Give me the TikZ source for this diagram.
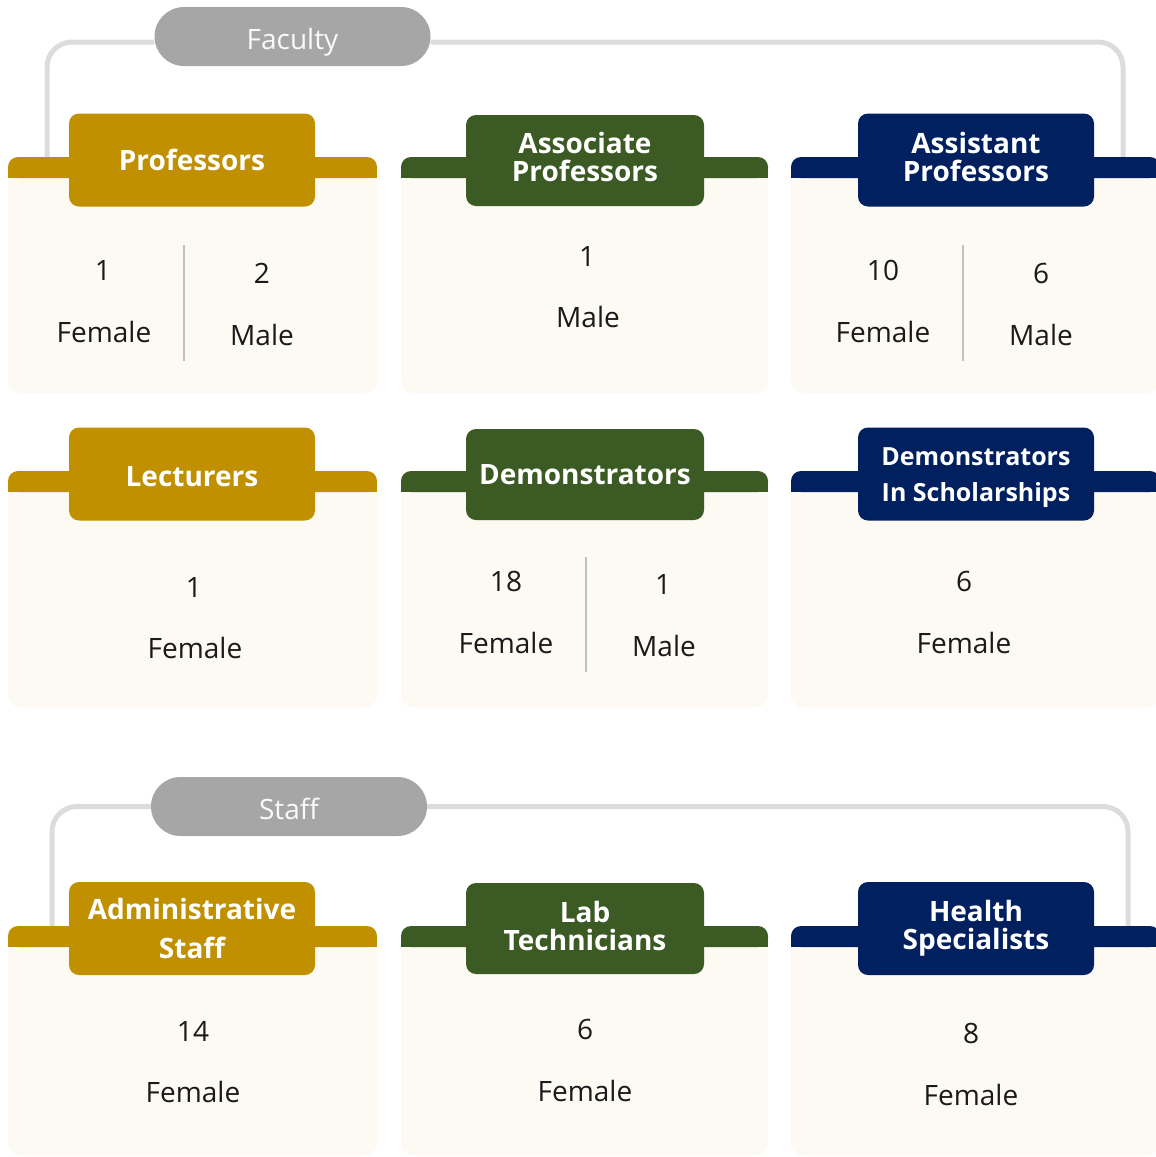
\documentclass[tikz,border=0pt]{standalone}
\usepackage{fontspec}
\setmainfont{Open Sans}
\usetikzlibrary{positioning}
\definecolor{gold}{HTML}{C09000}
\definecolor{leaf}{HTML}{3B5A24}
\definecolor{navy}{HTML}{002060}
\definecolor{cream}{HTML}{FDF9F3}
\definecolor{pill}{HTML}{A6A6A6}
\definecolor{linkgray}{HTML}{DCDCDC}
\definecolor{rulegray}{HTML}{C0C0C0}
\definecolor{ink}{HTML}{1A1A1A}

% card: left, right, tab top, bottom, colour
\newcommand{\card}[5]{%
  \fill[cream, rounded corners=12] (#1,#3+10) rectangle (#2,#4);
  \fill[#5, rounded corners=10] (#1,#3) rectangle (#2,#3+21);
  \fill[#5] (#1,#3+10) rectangle (#2,#3+21);
}

\begin{document}
\begin{tikzpicture}[x=1pt,y=-1pt,
    head/.style={rounded corners=10, text=white, font=\bfseries\fontsize{28}{28}\selectfont,
      align=center, inner sep=0pt, minimum height=93},
    group/.style={fill=pill, text=white!94!pill, rounded corners=29.5, minimum width=276,
      minimum height=59, inner sep=0pt, text height=25pt, text depth=0pt,
      font=\fontsize{28}{28}\selectfont},
    link/.style={linkgray, line width=5, rounded corners=25},
    num/.style={text=ink, inner sep=0pt, font=\fontsize{28}{28}\selectfont},
    split/.style={rulegray, line width=2}]
    \useasboundingbox (0,0) rectangle (1156,1157);

    % group labels and their links
    \node[group] (faculty) at (292.5,36.5) {Faculty};
    \node[group] (staff) at (289,806.5) {Staff};
    \coordinate (facL) at (47,157);
    \coordinate (facR) at (1123,157);
    \coordinate (stfL) at (52,926);
    \coordinate (stfR) at (1128,926);
    \draw[link] (facL) |- ([yshift=-5.5pt]faculty.west);
    \draw[link] ([yshift=-5.5pt]faculty.east) -| (facR);
    \draw[link] (stfL) |- (staff.west);
    \draw[link] (staff.east) -| (stfR);

    % cards
    \card{8}{377}{157}{393}{gold}
    \card{401}{768}{157}{393}{leaf}
    \card{791}{1160}{157}{393}{navy}
    \card{8}{377}{471}{707}{gold}
    \card{401}{768}{471}{707}{leaf}
    \card{791}{1160}{471}{707}{navy}
    \card{8}{377}{926}{1155}{gold}
    \card{401}{768}{926}{1155}{leaf}
    \card{791}{1160}{926}{1155}{navy}

    % headers
    \node[head, fill=gold, minimum width=246] (prof) at (192,160) {Professors};
    \node[head, fill=leaf, minimum width=238, minimum height=91, text depth=8pt] (assoc) at (585,160.5) {Associate\\Professors};
    \node[head, fill=navy, minimum width=236, text depth=6pt] (assist) at (976,160) {Assistant\\Professors};
    \node[head, fill=gold, minimum width=246, text height=26pt] (lect) at (192,474) {Lecturers};
    \node[head, fill=leaf, minimum width=238, minimum height=91] (demo) at (585,474.5) {Demonstrators};
    \node[head, fill=navy, minimum width=236, text height=61pt,
      font=\bfseries\fontsize{25}{36}\selectfont] (schol) at (976,474) {Demonstrators\\In Scholarships};
    \node[head, fill=gold, minimum width=246] (admin) at (192,928.5) {Administrative\\[11pt]Staff};
    \node[head, fill=leaf, minimum width=238, minimum height=91, text depth=6pt] (lab) at (585,928.5) {Lab\\Technicians};
    \node[head, fill=navy, minimum width=236] (health) at (976,928.5) {Health\\Specialists};

    % figures
    \node[num] (profFn) at (103,270) {1};
    \node[num] (profF) at (104,332) {Female};
    \node[num] (profMn) at (262,273) {2};
    \node[num] (profM) at (262,335) {Male};
    \draw[split] (184,245) -- (184,361);

    \node[num] (assocMn) at (587,256) {1};
    \node[num] (assocM) at (588,317) {Male};

    \node[num] (assistFn) at (883,270) {10};
    \node[num] (assistF) at (883,332) {Female};
    \node[num] (assistMn) at (1041,273) {6};
    \node[num] (assistM) at (1041,335) {Male};
    \draw[split] (963,245) -- (963,361);

    \node[num] (lectFn) at (194,587) {1};
    \node[num] (lectF) at (195,648) {Female};

    \node[num] (demoFn) at (506,581) {18};
    \node[num] (demoF) at (506,643) {Female};
    \node[num] (demoMn) at (663,584) {1};
    \node[num] (demoM) at (664,646) {Male};
    \draw[split] (586,557) -- (586,672);

    \node[num] (scholFn) at (964,581) {6};
    \node[num] (scholF) at (964,643) {Female};

    \node[num] (adminFn) at (193,1031) {14};
    \node[num] (adminF) at (193,1092) {Female};

    \node[num] (labFn) at (585,1029) {6};
    \node[num] (labF) at (585,1091) {Female};

    \node[num] (healthFn) at (971,1033) {8};
    \node[num] (healthF) at (971,1095) {Female};
\end{tikzpicture}
\end{document}
